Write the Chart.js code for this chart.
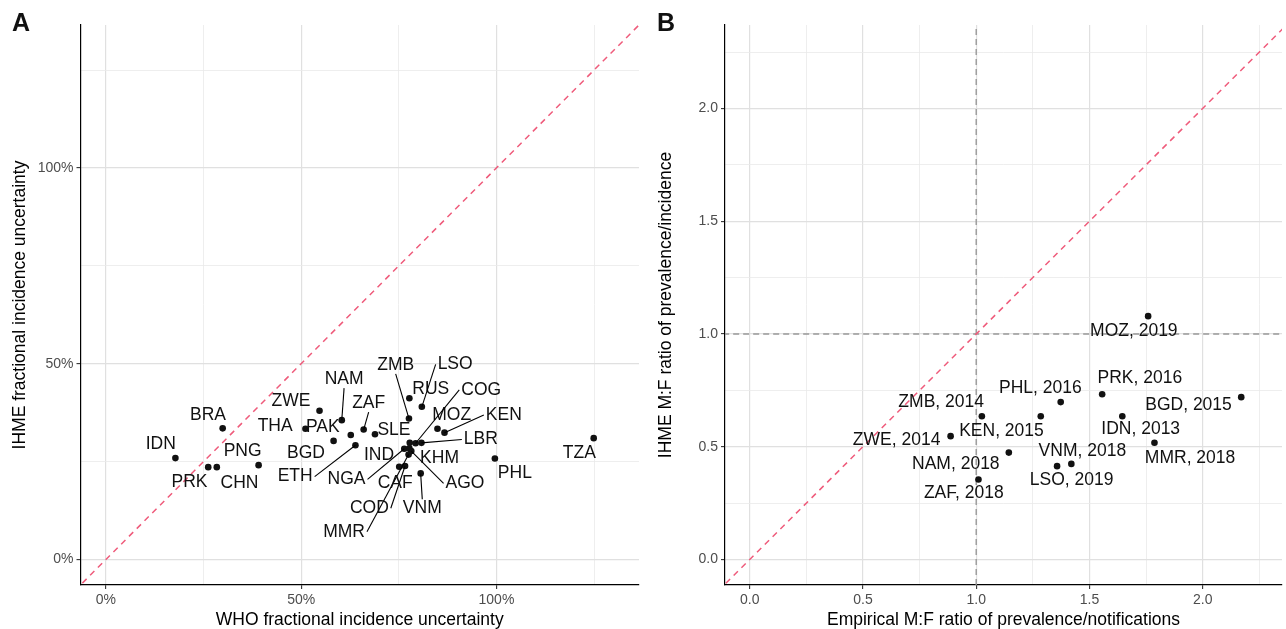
<!DOCTYPE html>
<html>
<head>
<meta charset="utf-8">
<script src="https://cdn.jsdelivr.net/npm/chart.js@4.4.1/dist/chart.umd.min.js"></script>
<style>
  body { margin: 0; background: #fff; }
  .panel { position: absolute; top: 0; width: 643px; height: 629px; }
  #wrapA { left: 0; }
  #wrapB { left: 643px; }
</style>
</head>
<body>
<div class="panel" id="wrapA"><canvas id="chartA"></canvas></div>
<div class="panel" id="wrapB"><canvas id="chartB"></canvas></div>
<script>
// ---- panel A: fractional incidence uncertainty (%) ----
const codesA = ['IDN','BRA','PRK','CHN','PNG','ZWE','THA','BGD','PAK','NAM','ZAF','SLE','ETH','ZMB','RUS',
                'LSO','MOZ','KEN','COG','LBR','IND','NGA','KHM','AGO','MMR','COD','CAF','VNM','PHL','TZA'];
const whoUnc  = [17.8, 29.9, 26.2, 28.4, 39.1, 54.7, 51.1, 58.3, 62.7, 60.4, 66.0, 68.9, 63.9, 77.6, 77.7,
                 80.9, 84.9, 86.7, 79.3, 80.8, 77.8, 76.4, 77.7, 78.2, 77.5, 76.6, 75.1, 80.6, 99.6, 124.9];
const ihmeUnc = [25.9, 33.5, 23.6, 23.6, 24.1, 38.0, 33.4, 30.3, 31.8, 35.6, 33.2, 32.0, 29.2, 36.0, 41.2,
                 39.0, 33.4, 32.4, 29.7, 29.8, 29.8, 28.3, 28.4, 27.7, 26.8, 23.9, 23.7, 22.0, 25.8, 31.0];
const ticksA = [0, 25, 50, 75, 100, 125];

// ---- panel B: M:F ratios ----
const codesB = ['MOZ','PRK','BGD','IDN','MMR','PHL','KEN','ZMB','ZWE','NAM','ZAF','VNM','LSO'];
const yearsB = [2019, 2016, 2015, 2013, 2018, 2016, 2015, 2014, 2014, 2018, 2018, 2018, 2019];
const empRatio  = [1.759, 1.556, 2.170, 1.645, 1.787, 1.373, 1.285, 1.025, 0.887, 1.144, 1.010, 1.420, 1.357];
const ihmeRatio = [1.079, 0.733, 0.720, 0.635, 0.518, 0.698, 0.635, 0.635, 0.547, 0.474, 0.355, 0.424, 0.414];
const ticksB = [0, 0.25, 0.5, 0.75, 1, 1.25, 1.5, 1.75, 2, 2.25];

// label placement (pixel offset from point, draw leader segment)
const labelPosA = [
  [-14.7,-14,0],[-14.7,-13.3,0],[-18.7,15.3,0],[22.7,16,0],[-16,-13.6,0],[-28.6,-9.7,0],[-30.3,-2.7,0],
  [-27.6,12.6,0],[-28,-7.7,0],[2.3,-41,1],[5,-26.4,1],[19,-4.3,0],[-60.3,31.4,1],[-13.3,-53.7,1],[21.4,-9,0],
  [33.3,-42.4,1],[14.2,-13.7,0],[59.3,-17.7,1],[65.6,-53.3,1],[59.4,-3.4,1],[-30.7,12.3,0],[-57.7,30.6,1],
  [30.2,9.8,0],[53.7,32.3,1],[-64.5,77.2,1],[-35.7,42.3,1],[-4,16.6,0],[1.6,34.8,1],[20,15,0],[-14.3,15,0]
];
const labelPosB = [
  [-14.3,15.3,0],[37.7,-16,0],[-52.7,7.6,0],[18.4,12.6,0],[35.6,15,0],[-20.3,-14,0],[-39.3,15,0],
  [-40.7,-14,0],[-54,4.3,0],[-53,12,0],[-14.7,13.5,0],[11,-12.6,0],[14.6,14.3,0]
];

const FONT = '"Liberation Sans", Arial, Helvetica, sans-serif';

function labelPlugin(names, pos, tag, tagX) {
  return {
    id: 'pointLabels',
    afterDatasetsDraw(chart) {
      const meta = chart.getDatasetMeta(0);
      const ctx = chart.ctx;
      ctx.save();
      ctx.font = '17.5px ' + FONT;
      ctx.textAlign = 'center';
      ctx.textBaseline = 'middle';
      ctx.fillStyle = '#111';
      ctx.strokeStyle = '#000';
      ctx.lineWidth = 1.1;
      meta.data.forEach((pt, i) => {
        const [dx, dy, seg] = pos[i];
        const cx = pt.x + dx, cy = pt.y + dy;
        if (seg) {
          const w = ctx.measureText(names[i]).width / 2 + 2;
          const h = 9;
          const cands = [[cx - w, cy], [cx + w, cy], [cx, cy - h], [cx, cy + h]];
          let best = cands[0], bd = Infinity;
          cands.forEach(c => {
            const d = Math.hypot(c[0] - pt.x, c[1] - pt.y);
            if (d < bd) { bd = d; best = c; }
          });
          ctx.beginPath();
          ctx.moveTo(best[0], best[1]);
          ctx.lineTo(pt.x, pt.y);
          ctx.stroke();
        }
        ctx.fillText(names[i], cx, cy);
      });
      ctx.font = 'bold 25px ' + FONT;
      ctx.textAlign = 'left';
      ctx.textBaseline = 'alphabetic';
      ctx.fillStyle = '#111';
      ctx.fillText(tag, tagX, 30.5);
      ctx.restore();
    }
  };
}

function axis(min, max, ticks, fmt, title, isX, size, titlePad) {
  const major = v => fmt(v) !== '';
  return {
    type: 'linear', min: min, max: max,
    afterBuildTicks: s => { s.ticks = ticks.map(v => ({ value: v })); },
    afterFit: s => { if (isX) s.height = size; else s.width = size; },
    border: { display: true, color: '#000', width: 1.2 },
    grid: {
      color: c => major(c.tick.value) ? '#E0E0E0' : '#EAEAEA',
      lineWidth: c => major(c.tick.value) ? 1.2 : 0.8,
      tickColor: c => major(c.tick.value) ? '#333' : 'rgba(0,0,0,0)',
      tickLength: 4,
      tickWidth: 1.1
    },
    ticks: {
      callback: v => fmt(v),
      autoSkip: false, maxRotation: 0,
      color: '#4D4D4D',
      font: { family: FONT, size: 14 },
      padding: 3
    },
    title: {
      display: true, text: title, color: '#000',
      font: { family: FONT, size: 17.5 },
      padding: isX ? { top: 0, bottom: -2 } : { top: titlePad, bottom: 0 }
    }
  };
}

const fmtA = v => (v % 50 === 0 ? v + '%' : '');
const fmtB = v => (Math.abs(v * 2 - Math.round(v * 2)) < 1e-9 ? v.toFixed(1) : '');

const baseOpts = (padRight) => ({
  responsive: true, maintainAspectRatio: false, animation: false,
  layout: { padding: { top: 25, right: padRight, left: 0, bottom: 0 } },
  plugins: { legend: { display: false }, tooltip: { enabled: false } }
});

// ---- chart A ----
const optsA = baseOpts(2.5);
optsA.scales = {
  x: axis(-6.5, 136.5, ticksA, fmtA, 'WHO fractional incidence uncertainty', true, 44),
  y: axis(-6.5, 136.5, ticksA, fmtA, 'IHME fractional incidence uncertainty', false, 80.5, 9.5)
};
new Chart(document.getElementById('chartA'), {
  type: 'scatter',
  data: {
    datasets: [
      { data: whoUnc.map((x, i) => ({ x: x, y: ihmeUnc[i] })), pointRadius: 3.3,
        backgroundColor: '#111', borderWidth: 0, order: 0 },
      { data: [{ x: -10, y: -10 }, { x: 140, y: 140 }], showLine: true, pointRadius: 0,
        borderColor: '#EF5B7B', borderDash: [6, 5], borderWidth: 1.5, order: 1 }
    ]
  },
  options: optsA,
  plugins: [labelPlugin(codesA, labelPosA, 'A', 12)]
});

// ---- chart B ----
const namesB = codesB.map((c, i) => c + ', ' + yearsB[i]);
const optsB = baseOpts(2);
optsB.scales = {
  x: axis(-0.109, 2.35, ticksB, fmtB, 'Empirical M:F ratio of prevalence/notifications', true, 44),
  y: axis(-0.113, 2.37, ticksB, fmtB, 'IHME M:F ratio of prevalence/incidence', false, 82, 12.5)
};
new Chart(document.getElementById('chartB'), {
  type: 'scatter',
  data: {
    datasets: [
      { data: empRatio.map((x, i) => ({ x: x, y: ihmeRatio[i] })), pointRadius: 3.3,
        backgroundColor: '#111', borderWidth: 0, order: 0 },
      { data: [{ x: -1, y: -1 }, { x: 3, y: 3 }], showLine: true, pointRadius: 0,
        borderColor: '#EF5B7B', borderDash: [6, 5], borderWidth: 1.5, order: 1 },
      { data: [{ x: 1, y: -1 }, { x: 1, y: 3 }], showLine: true, pointRadius: 0,
        borderColor: '#999999', borderDash: [6, 4], borderWidth: 1.4, order: 2 },
      { data: [{ x: -1, y: 1 }, { x: 3, y: 1 }], showLine: true, pointRadius: 0,
        borderColor: '#999999', borderDash: [6, 4], borderWidth: 1.4, order: 2 }
    ]
  },
  options: optsB,
  plugins: [labelPlugin(namesB, labelPosB, 'B', 14)]
});
</script>
</body>
</html>
